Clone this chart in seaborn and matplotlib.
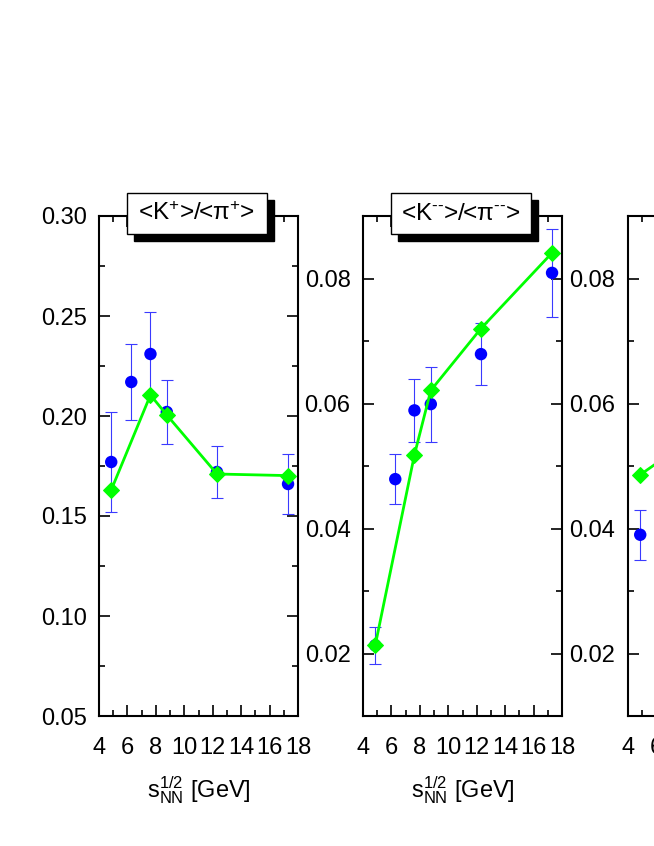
import matplotlib
matplotlib.use('Agg')
import matplotlib.pyplot as plt
import seaborn as sns
import numpy as np
import pandas as pd
from matplotlib.ticker import MultipleLocator, FormatStrFormatter
from matplotlib.patches import Rectangle

sns.set_style('ticks', rc={'axes.edgecolor': 'black', 'xtick.color': 'black',
                           'ytick.color': 'black', 'text.color': 'black',
                           'axes.labelcolor': 'black'})
plt.rcParams['font.family'] = ['Liberation Sans', 'DejaVu Sans']
plt.rcParams['mathtext.fontset'] = 'custom'
plt.rcParams['mathtext.rm'] = 'Liberation Sans'
plt.rcParams['mathtext.it'] = 'Liberation Sans:italic'
plt.rcParams['mathtext.bf'] = 'Liberation Sans:bold'

# ---------------- data ----------------
energies = [4.86, 6.27, 7.62, 8.77, 12.3, 17.3]
model_energies = [4.86, 7.62, 8.77, 12.3, 17.3]

kplus_data = [0.177, 0.217, 0.231, 0.202, 0.172, 0.166]
kplus_err = [0.025, 0.019, 0.021, 0.016, 0.013, 0.015]
kplus_model = [0.163, 0.2105, 0.2005, 0.171, 0.1702]

kminus_data = [0.0213, 0.0479, 0.0589, 0.0599, 0.0679, 0.0809]
kminus_err = [0.003, 0.004, 0.005, 0.006, 0.005, 0.007]
kminus_model = [0.0213, 0.0518, 0.0621, 0.0720, 0.0841]

third_energies = [4.86]
third_data = [0.039]
third_err = [0.004]
third_model_energies = [4.86, 7.62]
third_model = [0.0486, 0.053]

titles = [r'<K$^{+}$>/<π$^{+}$>', r'<K$^{\text{--}}$>/<π$^{\text{--}}$>', None]
xticks = [4, 6, 8, 10, 12, 14, 16, 18]

# ---------------- figure ----------------
fig = plt.figure(figsize=(6.54, 8.46), dpi=100)
W, H = 654, 846
panel_lefts = [99, 363, 628]
pw, ph = 199, 500
bottom_px = 716

panels = [
    (energies, kplus_data, kplus_err, model_energies, kplus_model, (0.05, 0.30), 0.05, 0.025),
    (energies, kminus_data, kminus_err, model_energies, kminus_model, (0.01, 0.09), 0.02, 0.01),
    (third_energies, third_data, third_err, third_model_energies, third_model, (0.01, 0.09), 0.02, 0.01),
]

for i, (ex, ey, ee, mx, my, ylim, ymaj, ymin) in enumerate(panels):
    ax = fig.add_axes([panel_lefts[i] / W, (H - bottom_px) / H, pw / W, ph / H])
    ax.errorbar(ex, ey, yerr=ee, fmt='none', ecolor='#3a3aff', elinewidth=0.8,
                capsize=4, capthick=0.8, zorder=2)
    sns.scatterplot(x=ex, y=ey, ax=ax, color='#0000ff', s=80, edgecolor='none',
                    zorder=3, legend=False)
    sns.lineplot(x=mx, y=my, ax=ax, color='#00ff00', lw=2.0, marker='D',
                 markersize=8, markeredgecolor='#00ff00', zorder=4,
                 sort=False, estimator=None, legend=False)
    ax.set_xlim(4, 18)
    ax.set_ylim(*ylim)
    ax.set_xticks(xticks)
    ax.xaxis.set_minor_locator(MultipleLocator(1))
    ax.yaxis.set_major_locator(MultipleLocator(ymaj))
    ax.yaxis.set_minor_locator(MultipleLocator(ymin))
    ax.yaxis.set_major_formatter(FormatStrFormatter('%.2f'))
    ax.tick_params(which='both', direction='in', top=True, right=True,
                   labelsize=17, width=1.2, color='black')
    ax.tick_params(which='major', length=8)
    ax.tick_params(which='minor', length=4)
    ax.tick_params(axis='x', pad=15)
    ax.tick_params(axis='y', pad=9)
    for s in ax.spines.values():
        s.set_linewidth(1.5)
        s.set_color('black')
    ax.set_xlabel(r's$_{\mathrm{NN}}^{1/2}$ [GeV]', fontsize=17, labelpad=11)
    ax.set_ylabel('')

    if titles[i] is not None:
        bx0, bx1 = 0.139, 0.843
        by0, by1 = 0.964, 1.046
        dx, dy = 7 / pw, -7 / ph
        ax.add_patch(Rectangle((bx0 + dx, by0 + dy), bx1 - bx0, by1 - by0,
                               transform=ax.transAxes, facecolor='black',
                               edgecolor='black', clip_on=False, zorder=9))
        ax.add_patch(Rectangle((bx0, by0), bx1 - bx0, by1 - by0,
                               transform=ax.transAxes, facecolor='white',
                               edgecolor='black', lw=1.0, clip_on=False, zorder=10))
        ax.text((bx0 + bx1) / 2, (by0 + by1) / 2, titles[i], transform=ax.transAxes,
                ha='center', va='center', fontsize=17.5, zorder=11)

fig.savefig('out.png', dpi=100)
